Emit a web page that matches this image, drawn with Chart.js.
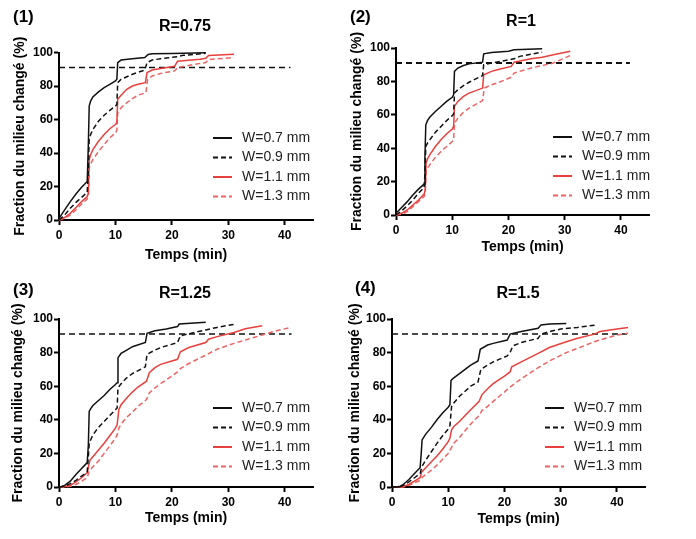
<!DOCTYPE html>
<html>
<head>
<meta charset="utf-8">
<script src="https://cdn.jsdelivr.net/npm/chart.js@4.4.0/dist/chart.umd.min.js"></script>
<style>
  body { margin: 0; background: #fff; }
  .panel { position: absolute; width: 348px; height: 270px; }
</style>
</head>
<body>
<div class="panel" style="left:0;top:0"><canvas id="c1" width="348" height="270"></canvas></div>
<div class="panel" style="left:348px;top:0"><canvas id="c2" width="348" height="270"></canvas></div>
<div class="panel" style="left:0;top:270px"><canvas id="c3" width="348" height="270"></canvas></div>
<div class="panel" style="left:348px;top:270px"><canvas id="c4" width="348" height="270"></canvas></div>
<script>
// textes et graduations
const panelLabels = ["(1)", "(2)", "(3)", "(4)"];
const titles = ["R=0.75", "R=1", "R=1.25", "R=1.5"];
const seriesLabels = ["W=0.7 mm", "W=0.9 mm", "W=1.1 mm", "W=1.3 mm"];
const xTicks = [0, 10, 20, 30, 40];
const yTicks = [0, 20, 40, 60, 80, 100];
const xTitle = "Temps (min)";
const yTitle = "Fraction du milieu changé (%)";
const refLevel = 91;
const refEnd = [41, 41.6, 41.2, 41.8];

// données : [temps (min), fraction (%)]
const p1_w07 = [[0,1],[1,6],[2,11],[3,15.5],[4,19.5],[5,23],[5.2,45],[5.35,68],[5.6,71],[6,73.5],[7,76.5],[8,79],[9,81],[10,83],[10.25,84],[10.4,94],[11,95.5],[13,96.3],[15.2,97],[15.8,98.8],[16.5,99.2],[20,99.4],[26,99.8]];
const p1_w09 = [[0,0],[1,3],[2,7],[3,10.5],[4,13.5],[5,16.5],[5.2,30],[5.35,49],[5.6,51],[6,54],[7,59],[8,62.5],[9,65.5],[10,68],[10.25,69],[10.4,82],[11,84],[13,87],[15.2,89.5],[15.6,94],[16.5,95.5],[18,96.3],[21,97.5],[22,98.3],[26,99.5]];
const p1_w11 = [[0,0],[1,1.5],[2,4],[3,7.5],[4,11],[5,14],[5.2,16],[5.35,36],[5.6,39],[6,42],[7,47],[8,51],[9,54.5],[10,57],[10.25,58],[10.4,72],[11,74.5],[12,78],[13,80],[14,81],[15.3,82],[15.6,88],[16.5,89.5],[18,90.5],[20.5,91.8],[21,94.8],[25,96],[26,96.5],[26.5,98.2],[31,99]];
const p1_w13 = [[0,0],[1,1],[2,3],[3,6],[4,9.5],[5,12.5],[5.2,14],[5.35,31],[5.6,33.5],[6,36],[7,41],[8,45],[9,49],[10,52],[10.25,53.5],[10.4,64],[11,67],[12,70],[13,72.5],[14,74.5],[15.4,76],[15.7,84],[16.5,86],[18,87.5],[20.5,89],[21,91],[25,93.5],[26,94],[26.5,95.8],[31,97]];

const p2_w07 = [[0,1],[1,4.5],[2,8],[3,12],[4,15.5],[5,18.5],[5.15,35],[5.3,54],[5.6,56.5],[6,58.5],[7,62],[8,65],[9,68],[10,70.5],[10.25,72],[10.4,86],[11,88],[12,89.5],[13,90.5],[15.4,91.5],[15.6,96.5],[17,97.3],[20,98],[21,99],[26,99.6]];
const p2_w09 = [[0,0],[1,2.5],[2,5.5],[3,9],[4,13],[5,16.5],[5.15,25],[5.3,41],[5.6,43],[6,45],[7,49.5],[8,53],[9,56.5],[10,59.5],[10.25,60.5],[10.4,73],[11,75],[12,77.5],[13,79.5],[15.4,83.5],[15.6,90],[17,91],[18,91.6],[21,93.5],[22,95],[26,97.5]];
const p2_w11 = [[0,0],[1,1],[2,3],[3,6],[4,9],[5,12.5],[5.2,15],[5.35,31],[5.6,33.5],[6,36],[7,41],[8,45],[9,48.5],[10,51.5],[10.25,53],[10.4,65],[11,68],[12,71],[13,73],[15.4,76],[15.6,84],[17,86],[18,87],[20.5,89],[21,91.5],[24,93.5],[26,94.5],[28,96],[31,98]];
const p2_w13 = [[0,0],[1,0.5],[2,2],[3,5],[4,8],[5,11],[5.2,13],[5.35,26],[5.6,28],[6,30],[7,34.5],[8,38],[9,41],[10,44],[10.25,45],[10.4,55],[11,58],[12,61.5],[13,64],[15.4,68.5],[15.7,76],[17,78],[18,79],[20.5,82.5],[21,85],[24,88],[26,89.5],[28,91],[31,95.5]];

const p3_w07 = [[0,0],[0.5,0.3],[1,1],[2,3.5],[3,7.5],[4,11],[5,14.5],[5.2,25],[5.35,45],[5.6,46.5],[6,48.5],[7,51.5],[8,54.5],[9,58],[10,61],[10.3,62],[10.45,77],[11,79.5],[12,81.5],[13,83.5],[15.3,86],[15.6,91.5],[17,93],[19,94],[21,95.5],[21.3,97],[26,98]];
const p3_w09 = [[0,0],[1,0.5],[2,2],[3,4],[4,6.5],[5,9],[5.2,18],[5.35,26],[5.6,28],[6,31],[7,35.5],[8,39],[9,42.5],[10,46],[10.3,47],[10.45,59],[11,61.5],[12,65],[13,67.5],[15.3,71.5],[15.6,79],[17,81.5],[18,83],[21,86],[21.5,90],[24,92],[26,93.5],[28,95],[31,96.8]];
const p3_w11 = [[0,0],[1,0.2],[2,1],[3,3],[4,5.5],[5,8.5],[5.3,13],[5.5,16],[6,18],[7,22],[8,26],[9,30.5],[10,35],[10.3,37],[10.6,46],[11,49],[12,53],[13,56.5],[14,59.5],[15.5,63],[16,68],[17,71],[18,73],[20,75],[21,76],[21.5,80.5],[23,83],[26,86],[26.5,88],[28,89.5],[31,92],[33,94.2],[36,96]];
const p3_w13 = [[0,0],[1,0],[2,0.5],[3,1.5],[4,3.5],[5,5.5],[5.3,9],[5.5,10],[6,12],[7,15.5],[8,20],[9,24.5],[10,29],[10.3,31],[10.6,35],[11,37.5],[12,41.5],[13,44.5],[14,48],[15.5,52],[16,56],[17,59],[18,61.5],[20,66],[21,68.5],[21.5,70.5],[23,73.5],[26,78.5],[28,82],[31,85.5],[33,87.5],[36,90.5],[38,92.5],[41,95]];

const p4_w07 = [[0,0],[1,0.2],[1.5,0.5],[2,1.5],[3,4.5],[4,8],[5,11.5],[5.2,20],[5.35,28],[6,31.5],[7,35.5],[8,40],[9,44],[10,47.5],[10.3,49],[10.5,63.5],[11,65],[12,67.5],[13,70],[14,72.5],[15.3,75],[15.7,82],[17,84.5],[18,85.5],[20.5,87.5],[21,91],[23,92.5],[26,94.5],[26.5,96.5],[28,97],[31,97.3]];
const p4_w09 = [[0,0],[1.5,0.3],[2,1],[3,3],[4,5.5],[5,8],[5.3,12],[6,16],[7,21],[8,26],[9,30.5],[10,34.5],[10.3,36.5],[10.6,48],[11,50],[12,54],[13,57],[14,60],[15.3,62.5],[15.8,70],[17,72.5],[18,74.5],[20.5,78],[21,80],[21.5,84],[23,86],[26,88.5],[26.5,91],[28,92.5],[30,94],[33,95],[36.5,96.5]];
const p4_w11 = [[0,0],[2,0.3],[3,1.5],[4,3.5],[5,5.5],[5.3,9],[6,11.5],[7,15],[8,18.5],[9,22.5],[10,27],[10.3,29],[10.6,34],[11,36],[12,39],[13,42.5],[14,46],[15.5,51],[16,55],[17,58.5],[18,61.5],[20,66],[21,68.5],[21.3,71.5],[23,74.5],[26,79.5],[28,83],[31,86.5],[33,88.5],[36,91],[37,92.5],[40,94],[42,95]];
const p4_w13 = [[0,0],[2,0],[3,1],[4,2.5],[5,4],[5.3,5.5],[6,7.5],[7,10],[8,13],[9,16.5],[10,20],[10.5,23],[11,26],[12,29.5],[13,33.5],[14,37.5],[15.5,42.5],[16,45.5],[17,48],[18,51],[20,56.5],[21,59.5],[23,64.5],[26,71],[28,75],[31,80],[33,82.5],[36,86.5],[38,88.5],[40,90.5],[42,91.5]];

const panelSeries = [
  [p1_w07, p1_w09, p1_w11, p1_w13],
  [p2_w07, p2_w09, p2_w11, p2_w13],
  [p3_w07, p3_w09, p3_w11, p3_w13],
  [p4_w07, p4_w09, p4_w11, p4_w13]
];

// styles des courbes
const seriesColors = ["#111111", "#111111", "#e8403c", "#ec6464"];
const seriesDash = [[], [5, 3], [], [5, 3]];

// mise en page de chaque panneau (pixels dans le canvas)
const layouts = [
  { area: [59, 52.5, 313, 220], lab: [13, 17], tit: [185, 27], leg: [213, 138], yPad: 13, xPad: 6.5, refW: 1.5 },
  { area: [48, 48, 301, 215], lab: [2, 17], tit: [173, 22], leg: [205, 137], yPad: 2, xPad: 14.5, refW: 2 },
  { area: [59, 49, 313, 217], lab: [13, 20], tit: [185, 24], leg: [213, 138], yPad: 11, xPad: 13.5, refW: 1.5 },
  { area: [44, 49, 297, 217], lab: [7, 18], tit: [170, 24], leg: [197, 138], yPad: 0, xPad: 12.5, refW: 1.5 }
];

const FONT = 'Arial, "Liberation Sans", sans-serif';

function toPoints(arr) {
  return arr.map(p => ({ x: p[0], y: p[1] }));
}

// plugin pour les étiquettes du panneau et la légende
function decor(i) {
  const L = layouts[i];
  return {
    id: "decor" + i,
    afterDraw(chart) {
      const ctx = chart.ctx;
      ctx.save();
      ctx.fillStyle = "#000";
      ctx.textBaseline = "middle";
      ctx.font = "bold 17px " + FONT;
      ctx.textAlign = "left";
      ctx.fillText(panelLabels[i], L.lab[0], L.lab[1]);
      ctx.font = "bold 16px " + FONT;
      ctx.textAlign = "center";
      ctx.fillText(titles[i], L.tit[0], L.tit[1]);
      // légende
      ctx.textAlign = "left";
      ctx.font = "14px " + FONT;
      for (let k = 0; k < 4; k++) {
        const y = L.leg[1] + k * 19.5;
        ctx.strokeStyle = seriesColors[k];
        ctx.lineWidth = 2;
        ctx.setLineDash(seriesDash[k]);
        ctx.beginPath();
        ctx.moveTo(L.leg[0], y);
        ctx.lineTo(L.leg[0] + 19, y);
        ctx.stroke();
        ctx.setLineDash([]);
        ctx.fillStyle = "#222";
        ctx.fillText(seriesLabels[k], L.leg[0] + 29, y);
      }
      ctx.restore();
    }
  };
}

function makeChart(i) {
  const L = layouts[i];
  const ctx = document.getElementById("c" + (i + 1)).getContext("2d");
  const datasets = panelSeries[i].map((s, k) => ({
    label: seriesLabels[k],
    data: toPoints(s),
    borderColor: seriesColors[k],
    borderDash: seriesDash[k],
    borderWidth: 1.5,
    pointRadius: 0,
    tension: 0,
    fill: false,
    clip: false
  }));
  datasets.push({
    label: "ref",
    data: [{ x: 0, y: refLevel }, { x: refEnd[i], y: refLevel }],
    borderColor: "#111",
    borderDash: [6, 4],
    borderWidth: L.refW,
    pointRadius: 0,
    fill: false,
    clip: false
  });

  return new Chart(ctx, {
    type: "line",
    data: { datasets: datasets },
    plugins: [decor(i)],
    options: {
      responsive: false,
      animation: false,
      events: [],
      layout: { padding: { left: 0, top: L.area[1], right: 348 - L.area[2], bottom: 0 } },
      plugins: { legend: { display: false }, tooltip: { enabled: false }, title: { display: false } },
      scales: {
        x: {
          type: "linear",
          min: 0,
          max: 45,
          afterBuildTicks: s => { s.ticks = xTicks.map(v => ({ value: v })); },
          afterFit: s => { s.height = 270 - L.area[3]; },
          grid: { drawOnChartArea: false, drawTicks: true, tickLength: 5, tickWidth: 2, tickColor: "#000" },
          border: { display: true, color: "#000", width: 2 },
          ticks: { color: "#000", padding: 3, font: { family: FONT, size: 12, weight: "bold" } },
          title: { display: true, text: xTitle, color: "#000", padding: { top: 0, bottom: L.xPad }, font: { family: FONT, size: 14, weight: "bold" } }
        },
        y: {
          min: 0,
          max: 100,
          afterBuildTicks: s => { s.ticks = yTicks.map(v => ({ value: v })); },
          afterFit: s => { s.width = L.area[0]; },
          grid: { drawOnChartArea: false, drawTicks: true, tickLength: 5, tickWidth: 2, tickColor: "#000" },
          border: { display: true, color: "#000", width: 2 },
          ticks: { color: "#000", padding: 1, font: { family: FONT, size: 12, weight: "bold" } },
          title: { display: true, text: yTitle, color: "#000", padding: { top: L.yPad, bottom: 0 }, font: { family: FONT, size: 14, weight: "bold", lineHeight: 1 } }
        }
      }
    }
  });
}

for (let i = 0; i < 4; i++) makeChart(i);
</script>
</body>
</html>
